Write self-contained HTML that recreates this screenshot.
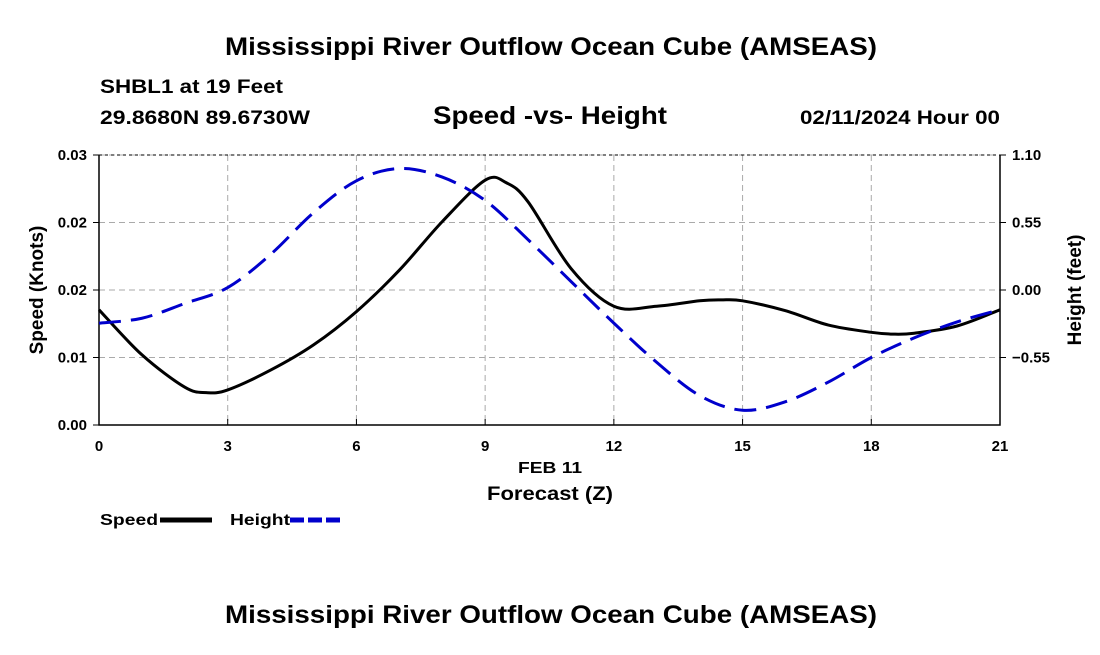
<!DOCTYPE html>
<html><head><meta charset="utf-8"><style>
body{margin:0;background:#fff;width:1100px;height:650px;overflow:hidden;font-family:"Liberation Sans",Arial,sans-serif}
</style></head><body>
<svg id="chart" width="1100" height="650" xmlns="http://www.w3.org/2000/svg" font-family="Liberation Sans, Arial, sans-serif">
<text x="225" y="55" font-size="25" font-weight="bold" textLength="652" lengthAdjust="spacingAndGlyphs">Mississippi River Outflow Ocean Cube (AMSEAS)</text>
<text x="100" y="93" font-size="19" font-weight="bold" textLength="183" lengthAdjust="spacingAndGlyphs">SHBL1 at 19 Feet</text>
<text x="100" y="124" font-size="19" font-weight="bold" textLength="210" lengthAdjust="spacingAndGlyphs">29.8680N  89.6730W</text>
<text x="433" y="124" font-size="25" font-weight="bold" textLength="234" lengthAdjust="spacingAndGlyphs">Speed -vs- Height</text>
<text x="800" y="124" font-size="19" font-weight="bold" textLength="200" lengthAdjust="spacingAndGlyphs">02/11/2024 Hour 00</text>
<g id="grid"></g><g id="axes"></g><g id="series"></g>
<text x="518" y="473" font-size="16" font-weight="bold" textLength="64" lengthAdjust="spacingAndGlyphs">FEB 11</text>
<text x="487" y="500" font-size="19" font-weight="bold" textLength="126" lengthAdjust="spacingAndGlyphs">Forecast (Z)</text>
<text transform="translate(43,290) rotate(-90)" text-anchor="middle" font-size="19" font-weight="bold">Speed (Knots)</text>
<text transform="translate(1081,290) rotate(-90)" text-anchor="middle" font-size="19" font-weight="bold">Height (feet)</text>
<g><text x="100" y="525" font-size="16" font-weight="bold" textLength="58" lengthAdjust="spacingAndGlyphs">Speed</text><line x1="160" y1="520" x2="212" y2="520" stroke="#000" stroke-width="5"/></g>
<g><text x="230" y="525" font-size="16" font-weight="bold" textLength="60" lengthAdjust="spacingAndGlyphs">Height</text><line x1="290" y1="520" x2="342" y2="520" stroke="#0000cc" stroke-width="5" stroke-dasharray="14,4"/></g>
<text x="225" y="623" font-size="25" font-weight="bold" textLength="652" lengthAdjust="spacingAndGlyphs">Mississippi River Outflow Ocean Cube (AMSEAS)</text>
</svg>
<script>
const hours=[0,1,2,2.5,3,4,5,6,7,8,9,9.5,10,11,12,13,14,14.5,15,16,17,18,18.5,19,20,21];
const speed=[0.0128,0.0078,0.0042,0.0036,0.0039,0.0061,0.0089,0.0126,0.0172,0.0226,0.0272,0.0269,0.0248,0.0174,0.0132,0.0132,0.0138,0.0139,0.0138,0.0127,0.0111,0.0103,0.0101,0.0102,0.011,0.0128];
const heightHours=[0,1,2,3,4,5,6,7,8,9,10,11,12,13,14,15,16,17,18,19,20,21];
const heightVals=[-0.27,-0.23,-0.11,0.02,0.29,0.63,0.89,0.99,0.92,0.73,0.41,0.07,-0.27,-0.59,-0.86,-0.98,-0.91,-0.75,-0.55,-0.39,-0.26,-0.16];
const xTicks=[0,3,6,9,12,15,18,21];
const leftTicks=[0,0.0075,0.015,0.0225,0.03];
const leftLabels=["0.00","0.01","0.02","0.02","0.03"];
const rightTicks=[1.10,0.55,0,-0.55];
const rightLabels=["1.10","0.55","0.00","\u22120.55"];
const L=99,R=1000,T=155,B=425;
const x=h=>L+(R-L)*h/21;
const yS=v=>B-(B-T)*v/0.03;
const yH=v=>B-(B-T)*(v+1.1)/2.2;
const NS="http://www.w3.org/2000/svg";
function mk(tag,attrs,parent,txt){const e=document.createElementNS(NS,tag);for(const k in attrs)e.setAttribute(k,attrs[k]);if(txt!==undefined)e.textContent=txt;document.getElementById(parent).appendChild(e);return e;}
function smooth(p){let d=`M${p[0][0]},${p[0][1]}`;for(let i=0;i<p.length-1;i++){const a=p[i-1]||p[i],b=p[i],c=p[i+1],e=p[i+2]||c;d+=`C${b[0]+(c[0]-a[0])/6},${b[1]+(c[1]-a[1])/6} ${c[0]-(e[0]-b[0])/6},${c[1]-(e[1]-b[1])/6} ${c[0]},${c[1]}`;}return d;}
xTicks.forEach(h=>{
 const g=mk('line',{x1:x(h),x2:x(h),y1:T,y2:B,stroke:'#aaa','stroke-dasharray':'6,4'},'grid');
 
 
 const t=mk('text',{x:x(h),y:B+26,'text-anchor':'middle','font-size':15,'font-weight':'bold'},'axes',String(h));
 
 
 mk('line',{x1:x(h),x2:x(h),y1:B,y2:B-6,stroke:'#000'},'axes');
});
leftTicks.forEach((v,i)=>{
 const g=mk('line',{x1:L,x2:R,y1:yS(v),y2:yS(v),stroke:'#aaa','stroke-dasharray':'6,4'},'grid');
 
 
 const t=mk('text',{x:L-12,y:yS(v)+5,'text-anchor':'end','font-size':15,'font-weight':'bold'},'axes',leftLabels[i]);
 
 
 mk('line',{x1:L-6,x2:L,y1:yS(v),y2:yS(v),stroke:'#000'},'axes');
});
rightTicks.forEach((v,i)=>{
 const t=mk('text',{x:R+12,y:yH(v)+5,'font-size':15,'font-weight':'bold'},'axes',rightLabels[i]);
 
 
 mk('line',{x1:R,x2:R+6,y1:yH(v),y2:yH(v),stroke:'#000'},'axes');
});
const topBorder=mk('line',{x1:L,x2:R,y1:T,y2:T,stroke:'#000','stroke-dasharray':'3,3'},'axes');


const fr=mk('path',{d:`M${L},${T}V${B}H${R}V${T}`,fill:'none',stroke:'#000','stroke-width':1.5},'axes');


const sp=mk('path',{d:smooth(hours.map((h,i)=>[x(h),yS(speed[i])])),fill:'none',stroke:'#000','stroke-width':3,'stroke-linejoin':'round'},'series');


const hl=mk('path',{d:smooth(heightHours.map((h,i)=>[x(h),yH(heightVals[i])])),fill:'none',stroke:'#0000cc','stroke-width':3,'stroke-dasharray':'22,10','stroke-linejoin':'round'},'series');


</script>
</body></html>
